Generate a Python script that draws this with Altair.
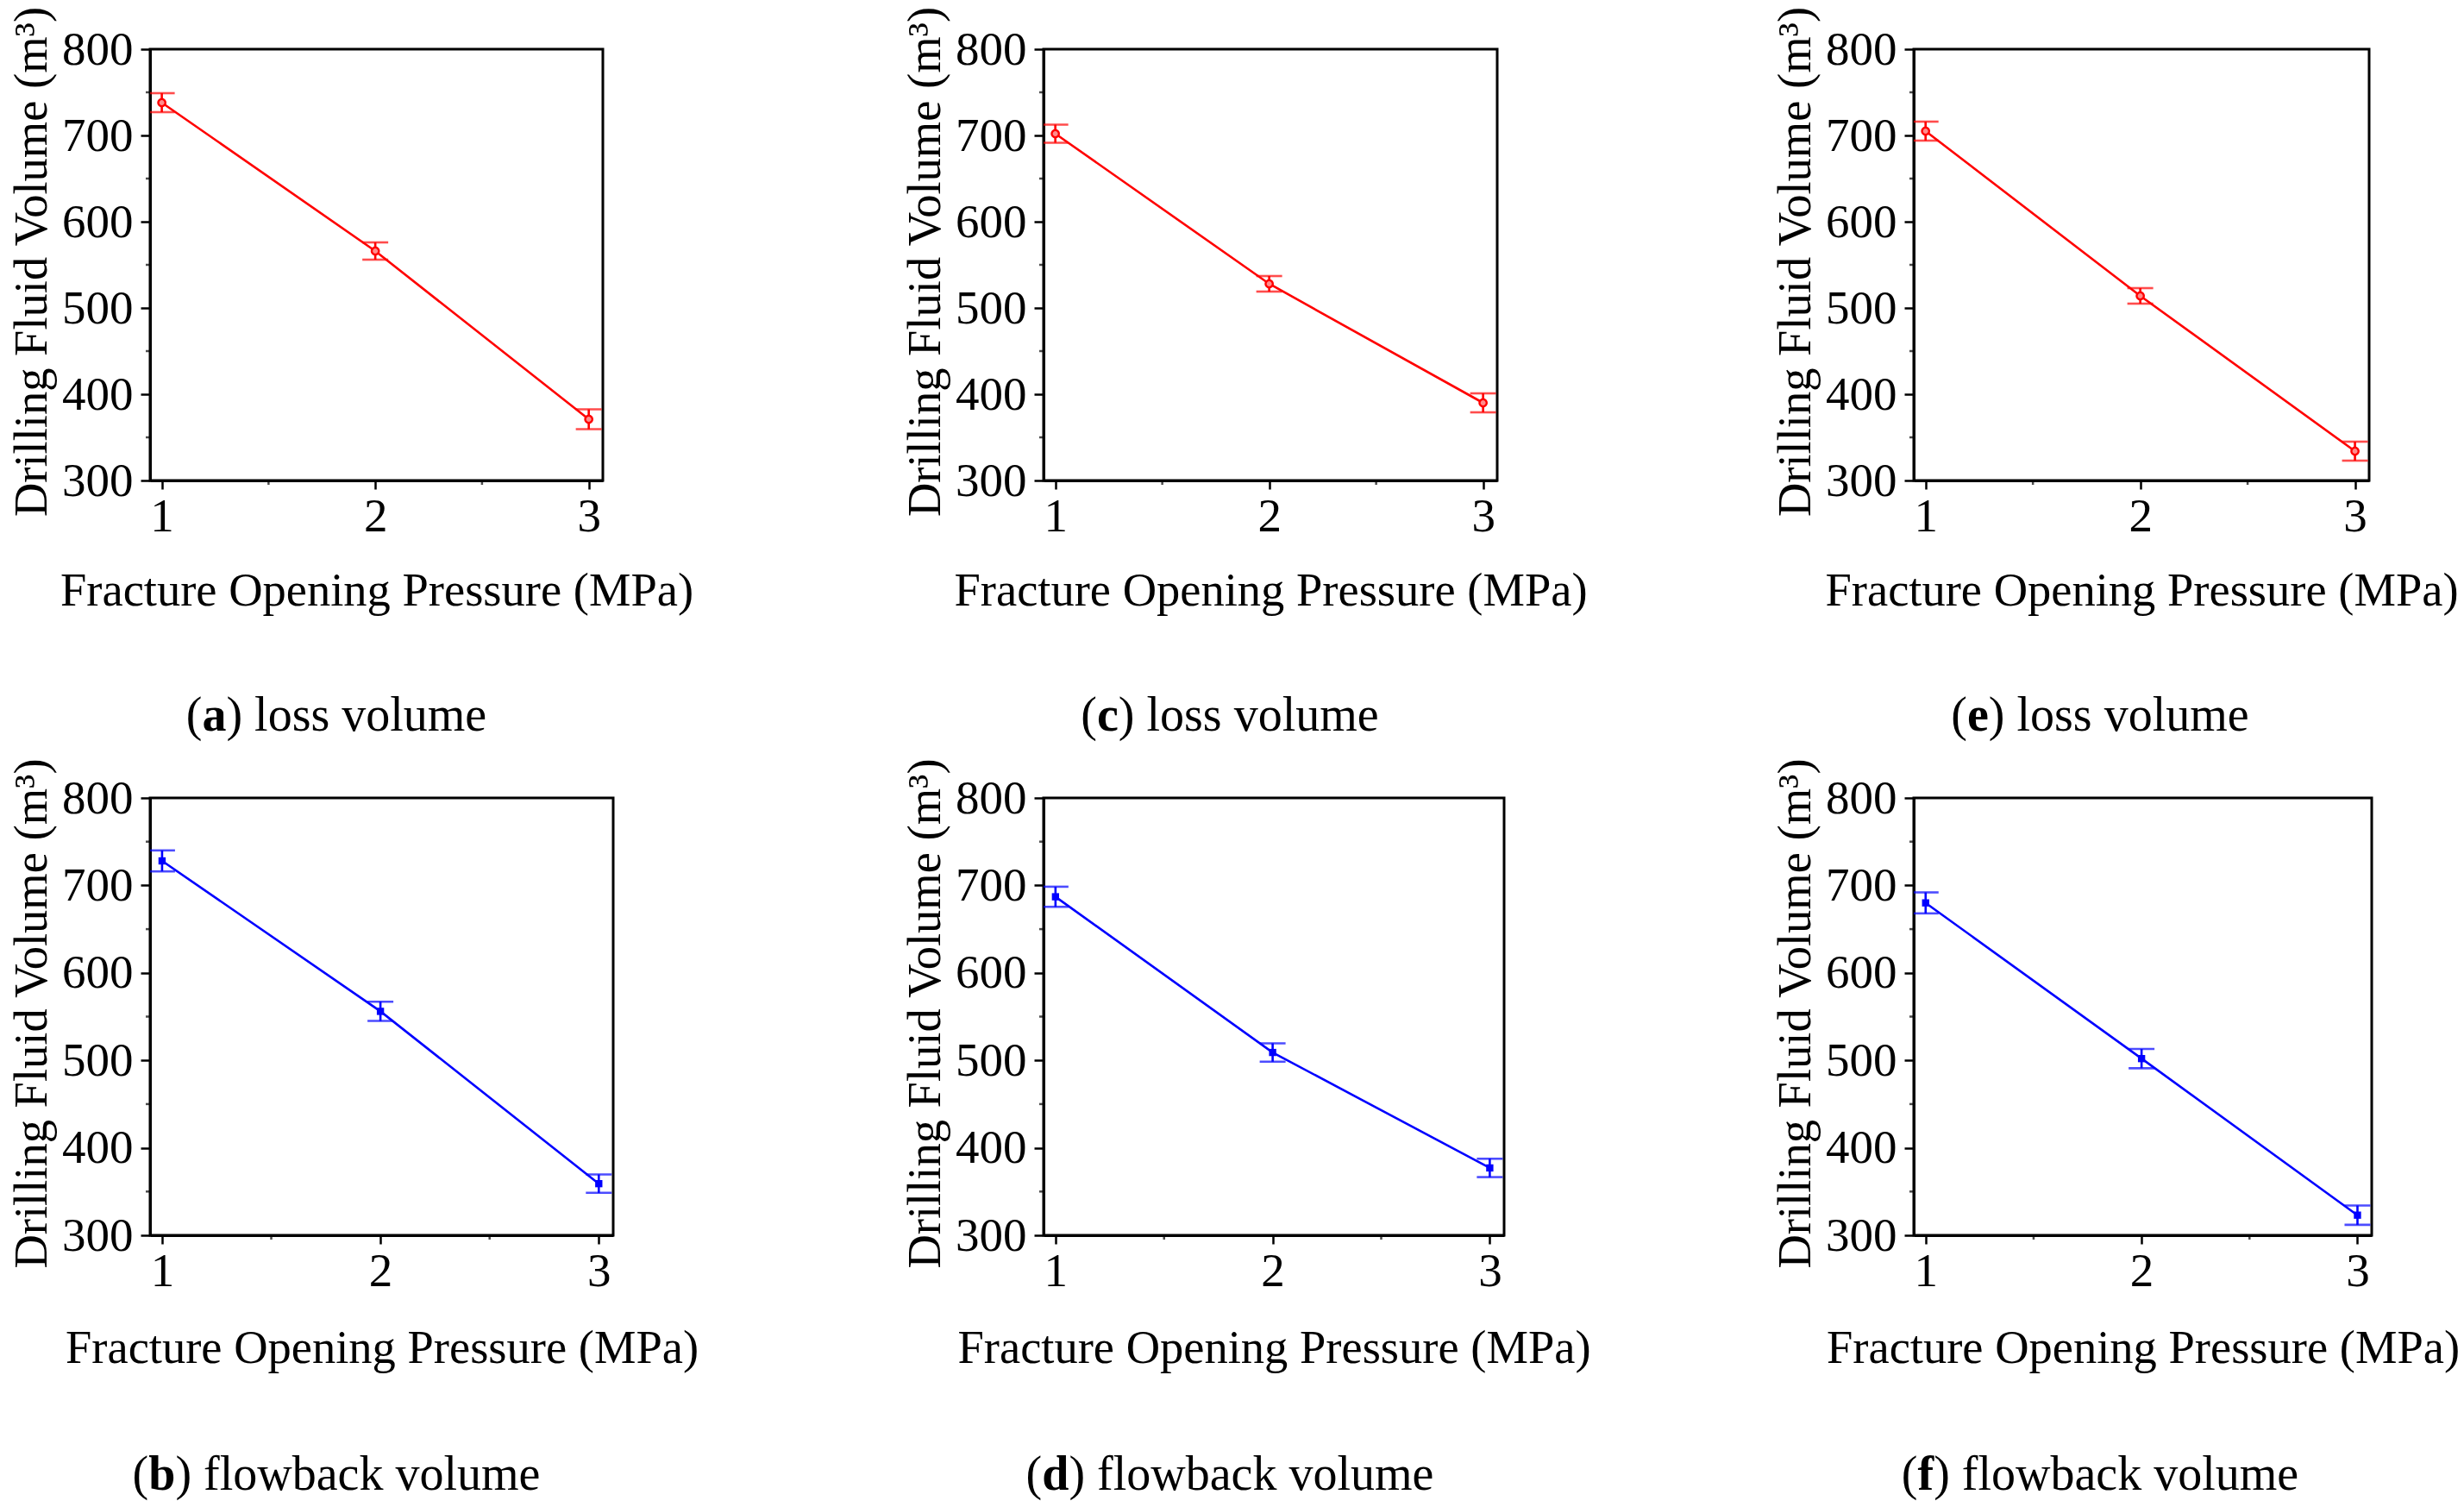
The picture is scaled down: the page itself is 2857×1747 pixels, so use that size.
import altair as alt
import pandas as pd

FONT = "Liberation Serif"
RED = "#ff0000"
BLUE = "#0000ff"

# ---- data ----
pressure = [1, 2, 3]
minor_x = [1.5, 2.5]
minor_y = [350, 450, 550, 650, 750]
y_ticks = [300, 400, 500, 600, 700, 800]

loss_a = [738, 566, 371]
loss_a_err = [11, 10, 11.5]
flow_b = [728, 556, 359]
flow_b_err = [12, 11, 10.5]
loss_c = [702, 528, 390]
loss_c_err = [10.5, 9, 11]
flow_d = [687, 509, 377]
flow_d_err = [11.5, 10.5, 10.5]
loss_e = [705, 514, 334]
loss_e_err = [11, 9, 11]
flow_f = [680, 502, 323]
flow_f_err = [12, 11, 11]

x_title = "Fracture Opening Pressure (MPa)"
y_title = "Drilling Fluid Volume (m³)"

# Liberation Serif advance widths (em) used to centre the mixed-weight captions
BOLD_W = {"a": 0.5, "b": 0.556, "c": 0.444, "d": 0.556, "e": 0.444, "f": 0.333}
REST_W = {"loss volume": 0.333 + 0.25 + 4.806, "flowback volume": 0.333 + 0.25 + 3.721 + 0.25 + 3.0}
CAP_FS = 56
LABEL_FS = 55
TITLE_FS = 54.5


def panel(letter, label, vals, errs, color, shape, w, h, title_y, cap_gap):
    df = pd.DataFrame({
        "p": pressure,
        "v": vals,
        "lo": [v - e for v, e in zip(vals, errs)],
        "hi": [v + e for v, e in zip(vals, errs)],
    })
    xs = alt.Scale(domain=[0.945, 3.066], nice=False, zero=False)
    ys = alt.Scale(domain=[300, 800], nice=False, zero=False)
    xaxis = alt.Axis(
        tickCount=2, format="d", title=x_title, grid=False,
        titleX=w / 2, titleY=title_y, titleBaseline="alphabetic", titleAlign="center",
        titleFont=FONT, titleFontSize=TITLE_FS, titleFontWeight="normal", titleColor="black",
        labelFont=FONT, labelFontSize=LABEL_FS, labelColor="black", labelPadding=5,
        labelFlush=False, labelOverlap=False, labelBound=False,
        tickSize=10, tickWidth=2.5, tickColor="black", domainWidth=3, domainColor="black",
    )
    yaxis = alt.Axis(
        values=y_ticks, format="d", title=y_title, grid=False,
        titleX=-121, titleY=h / 2 - 4, titleAngle=270, titleBaseline="alphabetic", titleAlign="center",
        titleFont=FONT, titleFontSize=TITLE_FS, titleFontWeight="normal", titleColor="black",
        labelFont=FONT, labelFontSize=LABEL_FS, labelColor="black", labelPadding=9,
        labelFlush=False, labelOverlap=False, labelBound=False,
        tickSize=11, tickWidth=2.5, tickColor="black", domainWidth=3, domainColor="black",
    )
    X = alt.X("p:Q", scale=xs, axis=xaxis)
    Y = alt.Y("v:Q", scale=ys, axis=yaxis)

    base = alt.Chart(df)
    line = base.mark_line(color=color, strokeWidth=2.6).encode(x=X, y=Y)
    bars = base.mark_rule(color=color, strokeWidth=2.6).encode(
        x=X, y=alt.Y("lo:Q", scale=ys, axis=yaxis), y2="hi:Q")
    cap_lo = base.mark_tick(orient="horizontal", size=30, thickness=2.6, color=color, clip=True).encode(
        x=X, y=alt.Y("lo:Q", scale=ys, axis=yaxis))
    cap_hi = base.mark_tick(orient="horizontal", size=30, thickness=2.6, color=color, clip=True).encode(
        x=X, y=alt.Y("hi:Q", scale=ys, axis=yaxis))
    if shape == "circle":
        pts = base.mark_point(shape="circle", size=70, filled=True, fill="#ff8c8c",
                              stroke=color, strokeWidth=2.4, opacity=1).encode(x=X, y=Y)
    else:
        pts = base.mark_point(shape="square", size=70, filled=True, color=color, opacity=1).encode(x=X, y=Y)

    mx = alt.Chart(pd.DataFrame({"p": minor_x})).mark_tick(
        orient="vertical", size=5, thickness=2.5, color="black").encode(x=X, y=alt.value(h + 2.5))
    my = alt.Chart(pd.DataFrame({"v": minor_y})).mark_tick(
        orient="horizontal", size=5, thickness=2.5, color="black").encode(x=alt.value(-2.5), y=Y)

    total = (0.333 + BOLD_W[letter] + REST_W[label]) * CAP_FS
    x0 = 216 - total / 2
    yb = h + cap_gap
    one = pd.DataFrame({"k": [0]})
    c1 = alt.Chart(one).mark_text(text="(", font=FONT, fontSize=CAP_FS, align="left",
                                  baseline="alphabetic", color="black").encode(
        x=alt.value(x0), y=alt.value(yb))
    c2 = alt.Chart(one).mark_text(text=letter, font=FONT, fontSize=CAP_FS, fontWeight="bold",
                                  align="left", baseline="alphabetic", color="black").encode(
        x=alt.value(x0 + 0.333 * CAP_FS), y=alt.value(yb))
    c3 = alt.Chart(one).mark_text(text=") " + label, font=FONT, fontSize=CAP_FS, align="left",
                                  baseline="alphabetic", color="black").encode(
        x=alt.value(x0 + (0.333 + BOLD_W[letter]) * CAP_FS), y=alt.value(yb))

    return alt.layer(line, bars, cap_lo, cap_hi, pts, mx, my, c1, c2, c3).properties(width=w, height=h)


def spacer(w):
    return alt.Chart(pd.DataFrame({"s": [0]})).mark_point(opacity=0).encode(
        x=alt.value(0), y=alt.value(0)
    ).properties(width=w, height=1, view=alt.ViewBackground(strokeOpacity=0))


charts = [
    panel("a", "loss volume", loss_a, loss_a_err, RED, "circle", 525, 500, 144, 290),
    spacer(499),
    panel("c", "loss volume", loss_c, loss_c_err, RED, "circle", 526, 500, 144, 290),
    spacer(474.5),
    panel("e", "loss volume", loss_e, loss_e_err, RED, "circle", 528, 500, 144, 290),
    panel("b", "flowback volume", flow_b, flow_b_err, BLUE, "square", 537, 507, 147, 295),
    spacer(499),
    panel("d", "flowback volume", flow_d, flow_d_err, BLUE, "square", 534, 507, 147, 295),
    spacer(474.5),
    panel("f", "flowback volume", flow_f, flow_f_err, BLUE, "square", 531, 507, 147, 295),
]

chart = alt.concat(
    *charts, columns=5, spacing={"row": 368, "column": 0}, bounds="flush", align="each"
).properties(
    autosize=alt.AutoSizeParams(type="none"),
    padding={"left": 174, "top": 57, "right": 2683, "bottom": 1690},
    background="white",
).configure_view(stroke="black", strokeWidth=3)

chart.save("out.html", embed_options={"renderer": "svg", "actions": False})
